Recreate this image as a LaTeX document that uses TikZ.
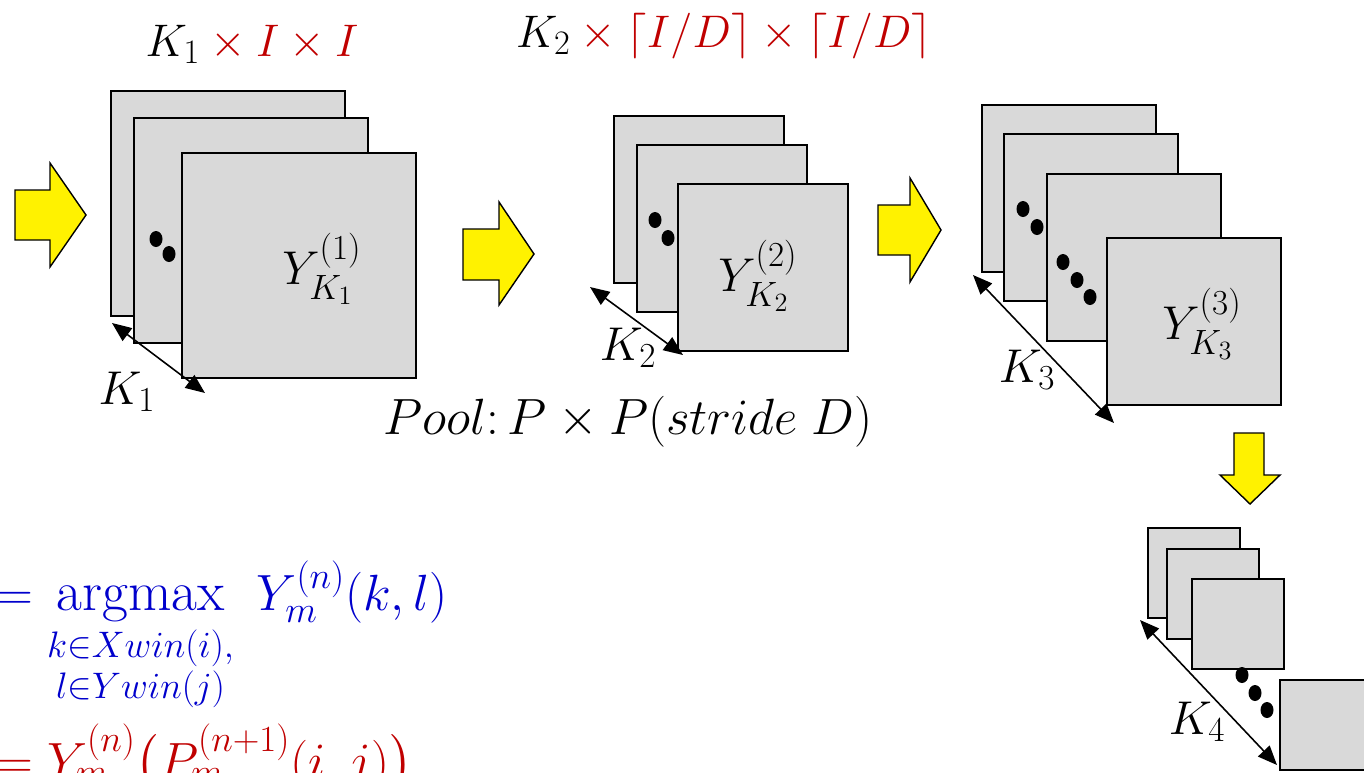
\RequirePackage{fix-cm}
\documentclass[tikz,border=0pt]{standalone}
\usepackage{amsmath,amssymb}
\usepackage{tikz}
\usetikzlibrary{arrows.meta, positioning}

\definecolor{mapgray}{RGB}{217,217,217}
\definecolor{hlred}{RGB}{192,0,0}
\definecolor{hlblue}{RGB}{0,0,204}
\DeclareMathSizes{26}{26}{19.5}{14}
\DeclareMathSizes{27}{27}{20}{15}
\DeclareMathSizes{29}{29}{21}{16}
\newcommand\bigargmax{\operatorname*{\mbox{\fontsize{32}{34}\selectfont argmax}}}

\begin{document}
\begin{tikzpicture}[x=0.02cm, y=-0.02cm,
    fmap/.style={draw=black, fill=mapgray, line width=0.9pt, anchor=north west, inner sep=0pt},
    mapA/.style={fmap, minimum width=4.68cm, minimum height=4.5cm},
    mapB/.style={fmap, minimum width=3.4cm, minimum height=3.34cm},
    mapC/.style={fmap, minimum width=3.48cm, minimum height=3.34cm},
    mapD/.style={fmap, minimum width=1.84cm, minimum height=1.8cm},
    bigmath/.style={font=\fontsize{27}{32}\selectfont, inner sep=0pt},
    toplabel/.style={font=\fontsize{26}{30}\selectfont, inner sep=0pt},
    eqline/.style={font=\fontsize{29}{34}\selectfont, inner sep=0pt, anchor=base west},
    dimarrow/.style={{Triangle[length=11pt,width=9pt]}-{Triangle[length=11pt,width=9pt]}, line width=0.9pt},
    flowarrow/.style={draw=black, fill=yellow, line width=0.8pt, line join=miter}]

% ── Frame ───────────────────────────────────────────────────
\useasboundingbox (0,0) rectangle (1364,772);
\clip (0,0) rectangle (1364,772);

% ── Yellow flow arrows ──────────────────────────────────────
\draw[flowarrow] (15,190) -- (50,190) -- (50,163) -- (86,215) -- (50,267) -- (50,240) -- (15,240) -- cycle;
\draw[flowarrow] (463,229) -- (499,229) -- (499,202) -- (534,254) -- (499,305) -- (499,280) -- (463,280) -- cycle;
\draw[flowarrow] (878,205) -- (910,205) -- (910,178) -- (941,230) -- (910,282) -- (910,255) -- (878,255) -- cycle;
\draw[flowarrow] (1234,433) -- (1264,433) -- (1264,475) -- (1280,475) -- (1250,504) -- (1220,475) -- (1234,475) -- cycle;

% ── Layer 1 ─────────────────────────────────────────────────
\node[mapA] (a1) at (110,90) {};
\node[mapA] (a2) at (133,117) {};
\fill (156,239) ellipse (6.5 and 8);
\fill (169,254) ellipse (6.5 and 8);
\node[mapA] (a3) at (181,152) {};
\node[bigmath] (ya) at (322,269) {$Y_{K_1}^{(1)}$};
\node[toplabel] (topa) at (252,44) {$K_1 \textcolor{hlred}{{}\times I \times I}$};

\coordinate (ka0) at (112,323);
\coordinate (ka1) at (205,393);
\draw[dimarrow] (ka0) -- (ka1);
\node[bigmath] (ka) at (127,392) {$K_1$};

% ── Layer 2 ─────────────────────────────────────────────────
\node[mapB] (b1) at (613,115) {};
\node[mapB] (b2) at (636,144) {};
\fill (655,220) ellipse (6.5 and 8);
\fill (668,238) ellipse (6.5 and 8);
\node[mapB] (b3) at (677,183) {};
\node[bigmath] (yb) at (758,276) {$Y_{K_2}^{(2)}$};
\node[toplabel] (topb) at (724,36)
    {$K_2 \textcolor{hlred}{{}\times \lceil I/D\rceil \times \lceil I/D\rceil}$};

\coordinate (kb0) at (590,287);
\coordinate (kb1) at (683,355);
\draw[dimarrow] (kb0) -- (kb1);
\node[bigmath] (kb) at (628,348) {$K_2$};

\node[bigmath, font=\fontsize{29}{33}\selectfont] (pool) at (628,422)
    {$Pool{:}\,P \times P(stride\;D)$};

% ── Layer 3 ─────────────────────────────────────────────────
\node[mapC] (c1) at (981,104) {};
\node[mapC] (c2) at (1003,133) {};
\fill (1023,209) ellipse (6.5 and 8);
\fill (1037,227) ellipse (6.5 and 8);
\node[mapC] (c3) at (1046,173) {};
\fill (1063,262) ellipse (6.5 and 8);
\fill (1077,280) ellipse (6.5 and 8);
\fill (1090,297) ellipse (6.5 and 8);
\node[mapC] (c4) at (1106,237) {};
\node[bigmath] (yc) at (1202,324) {$Y_{K_3}^{(3)}$};

\coordinate (kc0) at (973,275);
\coordinate (kc1) at (1114,423);
\draw[dimarrow] (kc0) -- (kc1);
\node[bigmath] (kc) at (1027,370) {$K_3$};

% ── Layer 4 ─────────────────────────────────────────────────
\node[mapD] (d1) at (1147,527) {};
\node[mapD] (d2) at (1166,548) {};
\node[mapD] (d3) at (1191,578) {};
\fill (1242,675) ellipse (6.5 and 8);
\fill (1255,693) ellipse (6.5 and 8);
\fill (1267,710) ellipse (6.5 and 8);
\node[mapD] (d4) at (1279,679) {};

\coordinate (kd0) at (1140,620);
\coordinate (kd1) at (1277,765);
\draw[dimarrow] (kd0) -- (kd1);
\node[bigmath] (kd) at (1197,722) {$K_4$};

% ── Pooling equations ───────────────────────────────────────
\node[eqline, text=hlblue] (eqmax) at (-4,610)
    {$\displaystyle = \bigargmax_{\substack{k\in Xwin(i),\\ l\in Ywin(j)}} \; Y_m^{(n)}(k,l)$};
\node[eqline, text=hlred] (eqval) at (-4,778)
    {$= Y_m^{(n)}\bigl(P_m^{(n+1)}(i,j)\bigr)$};

\end{tikzpicture}
\end{document}
